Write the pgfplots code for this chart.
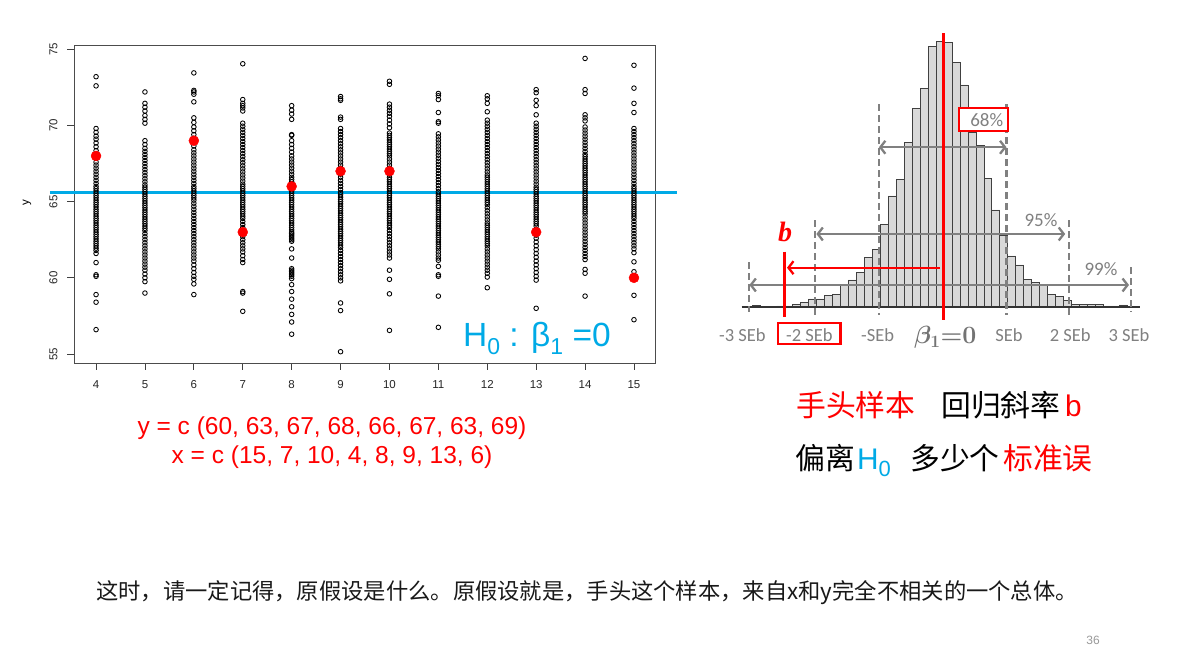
\documentclass[border=0pt]{standalone}
\usepackage{pgfplots}
\pgfplotsset{compat=1.18}
\usepackage{fontspec}
\setmainfont{Liberation Sans}
\newfontfamily\cjk{Noto Sans CJK SC}
\newfontfamily\calib{Carlito}
\newfontfamily\tnr{Liberation Serif}
\usetikzlibrary{arrows.meta}
\definecolor{hblue}{RGB}{0,170,230}
\definecolor{tgray}{RGB}{128,128,128}
\definecolor{barfill}{RGB}{217,217,217}
\definecolor{bardraw}{RGB}{64,64,64}
\newcommand{\fs}[1]{\fontsize{#1}{#1}\selectfont}
\tikzset{barb/.style={line width=2.3pt, tgray, {Straight Barb[length=5pt,width=13pt]}-{Straight Barb[length=5pt,width=13pt]}}}
\begin{document}
\begin{tikzpicture}[x=1pt,y=1pt]
\path[use as bounding box, fill=white] (0pt,0pt) rectangle (1192pt,671pt);
% ---------------- scatter plot ----------------
\begin{axis}[at={(74pt,308pt)}, anchor=south west, scale only axis, width=581pt, height=317.3pt,
 xmin=3.549, xmax=15.43, ymin=54.41, ymax=75.236, clip=false,
 axis line style={black!70, line width=0.9pt},
 xtick={4,5,6,7,8,9,10,11,12,13,14,15}, ytick={55,60,65,70,75},
 xtick pos=left, ytick pos=left,
 tick align=outside, major tick length=7pt, tick style={black!75, line width=0.9pt},
 /pgf/number format/assume math mode=true,
 ticklabel style={font=\fs{11.5}, text=black!85},
 xticklabel shift=7pt, yticklabel shift=6pt,
 yticklabel style={rotate=90, anchor=south},
 ylabel={y}, ylabel style={font=\fs{11.5}, at={(axis description cs:-0.081,0.504)}, anchor=center},
 scat/.style={only marks, mark=o, mark size=2.3pt, black, mark options={line width=0.85pt}}]
\addplot[scat] coordinates {(4,73.2)(4,72.6)(4,69.8)(4,69.55)(4,69.3)(4,69.1)(4,68.85)(4,68.6)(4,68.35)(4,68.1)(4,67.85)(4,67.6)(4,67.4)(4,67.2)(4,67.0)(4,66.8)(4,66.6)(4,66.4)(4,66.2)(4,66.0)(4,65.85)(4,65.7)(4,65.55)(4,65.4)(4,65.25)(4,65.1)(4,64.95)(4,64.8)(4,64.65)(4,64.5)(4,64.35)(4,64.2)(4,64.05)(4,63.9)(4,63.75)(4,63.6)(4,63.45)(4,63.3)(4,63.15)(4,63.0)(4,62.85)(4,62.7)(4,62.55)(4,62.4)(4,62.25)(4,62.1)(4,61.95)(4,61.8)(4,61.6)(4,61.0)(4,60.2)(4,60.1)(4,58.9)(4,58.4)(4,56.6)};
\addplot[scat] coordinates {(5,72.2)(5,71.45)(5,71.2)(5,70.95)(5,70.65)(5,70.4)(5,70.15)(5,69.0)(5,68.75)(5,68.5)(5,68.3)(5,68.1)(5,67.9)(5,67.7)(5,67.5)(5,67.3)(5,67.1)(5,66.9)(5,66.7)(5,66.5)(5,66.3)(5,66.1)(5,65.95)(5,65.8)(5,65.65)(5,65.5)(5,65.35)(5,65.2)(5,65.05)(5,64.9)(5,64.75)(5,64.6)(5,64.45)(5,64.3)(5,64.15)(5,64.0)(5,63.85)(5,63.7)(5,63.55)(5,63.4)(5,63.25)(5,63.1)(5,62.9)(5,62.7)(5,62.5)(5,62.3)(5,62.1)(5,61.9)(5,61.7)(5,61.5)(5,61.3)(5,61.1)(5,60.9)(5,60.7)(5,60.5)(5,60.25)(5,60.0)(5,59.75)(5,59.0)};
\addplot[scat] coordinates {(6,73.45)(6,72.3)(6,72.2)(6,72.05)(6,71.55)(6,70.5)(6,70.2)(6,69.9)(6,69.65)(6,69.4)(6,69.15)(6,68.9)(6,68.65)(6,68.4)(6,68.2)(6,68.0)(6,67.8)(6,67.6)(6,67.4)(6,67.2)(6,67.0)(6,66.8)(6,66.6)(6,66.4)(6,66.2)(6,66.0)(6,65.85)(6,65.7)(6,65.55)(6,65.4)(6,65.25)(6,65.1)(6,64.9)(6,64.7)(6,64.5)(6,64.3)(6,64.1)(6,63.9)(6,63.7)(6,63.5)(6,63.3)(6,63.1)(6,62.9)(6,62.7)(6,62.5)(6,62.3)(6,62.1)(6,61.9)(6,61.7)(6,61.5)(6,61.3)(6,61.1)(6,60.85)(6,60.6)(6,60.35)(6,60.1)(6,59.9)(6,59.6)(6,58.9)};
\addplot[scat] coordinates {(7,74.05)(7,71.7)(7,71.45)(7,71.3)(7,71.15)(7,70.95)(7,70.15)(7,69.95)(7,69.75)(7,69.55)(7,69.35)(7,69.15)(7,68.95)(7,68.75)(7,68.55)(7,68.35)(7,68.15)(7,67.95)(7,67.75)(7,67.55)(7,67.35)(7,67.15)(7,66.95)(7,66.75)(7,66.55)(7,66.35)(7,66.15)(7,66.0)(7,65.85)(7,65.7)(7,65.55)(7,65.4)(7,65.25)(7,65.1)(7,64.95)(7,64.8)(7,64.65)(7,64.5)(7,64.35)(7,64.2)(7,64.05)(7,63.9)(7,63.7)(7,63.5)(7,63.3)(7,63.1)(7,62.9)(7,62.7)(7,62.5)(7,62.3)(7,62.1)(7,61.9)(7,61.7)(7,61.45)(7,61.2)(7,61.0)(7,59.1)(7,59.0)(7,57.8)};
\addplot[scat] coordinates {(8,71.3)(8,71.0)(8,70.75)(8,70.4)(8,69.4)(8,69.35)(8,69.0)(8,68.75)(8,68.5)(8,68.25)(8,68.0)(8,67.8)(8,67.6)(8,67.4)(8,67.2)(8,67.0)(8,66.8)(8,66.6)(8,66.45)(8,66.3)(8,66.15)(8,66.0)(8,65.85)(8,65.7)(8,65.55)(8,65.4)(8,65.25)(8,65.1)(8,64.95)(8,64.8)(8,64.65)(8,64.5)(8,64.35)(8,64.2)(8,64.05)(8,63.9)(8,63.75)(8,63.6)(8,63.45)(8,63.3)(8,63.15)(8,63.0)(8,62.9)(8,62.8)(8,62.7)(8,62.6)(8,62.5)(8,62.4)(8,61.9)(8,61.3)(8,60.6)(8,60.5)(8,60.4)(8,60.3)(8,60.2)(8,60.1)(8,59.95)(8,59.55)(8,59.1)(8,58.6)(8,58.1)(8,57.6)(8,57.1)(8,56.3)};
\addplot[scat] coordinates {(9,71.9)(9,71.75)(9,71.65)(9,70.55)(9,70.4)(9,69.8)(9,69.6)(9,69.4)(9,69.2)(9,69.0)(9,68.8)(9,68.6)(9,68.4)(9,68.2)(9,68.0)(9,67.8)(9,67.6)(9,67.4)(9,67.2)(9,67.0)(9,66.8)(9,66.6)(9,66.4)(9,66.2)(9,66.0)(9,65.8)(9,65.6)(9,65.45)(9,65.3)(9,65.15)(9,65.0)(9,64.85)(9,64.7)(9,64.55)(9,64.4)(9,64.25)(9,64.1)(9,63.95)(9,63.8)(9,63.65)(9,63.5)(9,63.35)(9,63.2)(9,63.05)(9,62.9)(9,62.75)(9,62.6)(9,62.45)(9,62.3)(9,62.15)(9,62.0)(9,61.8)(9,61.6)(9,61.4)(9,61.2)(9,61.0)(9,60.8)(9,60.6)(9,60.4)(9,60.2)(9,60.0)(9,59.8)(9,58.35)(9,57.85)(9,55.15)};
\addplot[scat] coordinates {(10,72.9)(10,72.7)(10,71.4)(10,71.2)(10,71.0)(10,70.8)(10,70.6)(10,70.35)(10,70.1)(10,69.85)(10,69.5)(10,69.35)(10,69.2)(10,69.05)(10,68.9)(10,68.75)(10,68.6)(10,68.45)(10,68.3)(10,68.15)(10,68.0)(10,67.8)(10,67.6)(10,67.4)(10,67.2)(10,67.0)(10,66.8)(10,66.6)(10,66.45)(10,66.3)(10,66.15)(10,66.0)(10,65.85)(10,65.7)(10,65.55)(10,65.4)(10,65.25)(10,65.1)(10,64.95)(10,64.8)(10,64.65)(10,64.5)(10,64.35)(10,64.2)(10,64.05)(10,63.9)(10,63.75)(10,63.6)(10,63.45)(10,63.3)(10,63.1)(10,62.9)(10,62.7)(10,62.5)(10,62.3)(10,62.1)(10,61.9)(10,61.7)(10,61.5)(10,61.3)(10,60.5)(10,59.9)(10,58.95)(10,56.55)};
\addplot[scat] coordinates {(11,72.1)(11,71.95)(11,71.7)(11,70.85)(11,70.25)(11,70.15)(11,69.45)(11,69.25)(11,69.05)(11,68.85)(11,68.65)(11,68.45)(11,68.25)(11,68.05)(11,67.85)(11,67.65)(11,67.45)(11,67.25)(11,67.05)(11,66.85)(11,66.65)(11,66.45)(11,66.25)(11,66.05)(11,65.85)(11,65.65)(11,65.5)(11,65.35)(11,65.2)(11,65.05)(11,64.9)(11,64.75)(11,64.6)(11,64.45)(11,64.3)(11,64.15)(11,64.0)(11,63.85)(11,63.7)(11,63.55)(11,63.4)(11,63.25)(11,63.1)(11,62.95)(11,62.8)(11,62.65)(11,62.5)(11,62.35)(11,62.2)(11,62.05)(11,61.9)(11,61.7)(11,61.5)(11,61.3)(11,61.15)(11,60.75)(11,60.2)(11,60.1)(11,58.8)(11,56.75)};
\addplot[scat] coordinates {(12,71.95)(12,71.75)(12,71.45)(12,70.9)(12,70.35)(12,70.15)(12,69.95)(12,69.75)(12,69.55)(12,69.35)(12,69.15)(12,68.95)(12,68.75)(12,68.55)(12,68.35)(12,68.15)(12,67.95)(12,67.75)(12,67.55)(12,67.35)(12,67.15)(12,66.95)(12,66.75)(12,66.6)(12,66.45)(12,66.3)(12,66.15)(12,66.0)(12,65.85)(12,65.7)(12,65.55)(12,65.4)(12,65.25)(12,65.1)(12,64.95)(12,64.8)(12,64.6)(12,64.4)(12,64.2)(12,64.0)(12,63.8)(12,63.6)(12,63.45)(12,63.3)(12,63.15)(12,63.0)(12,62.85)(12,62.7)(12,62.55)(12,62.4)(12,62.25)(12,62.1)(12,61.9)(12,61.7)(12,61.5)(12,61.3)(12,61.1)(12,60.9)(12,60.7)(12,60.5)(12,60.3)(12,60.05)(12,59.35)};
\addplot[scat] coordinates {(13,72.35)(13,72.15)(13,71.65)(13,71.3)(13,70.7)(13,70.15)(13,69.95)(13,69.75)(13,69.55)(13,69.35)(13,69.15)(13,68.95)(13,68.75)(13,68.55)(13,68.35)(13,68.15)(13,67.95)(13,67.75)(13,67.55)(13,67.35)(13,67.15)(13,66.95)(13,66.75)(13,66.55)(13,66.35)(13,66.15)(13,65.95)(13,65.8)(13,65.65)(13,65.5)(13,65.35)(13,65.2)(13,65.05)(13,64.9)(13,64.75)(13,64.6)(13,64.45)(13,64.3)(13,64.15)(13,64.0)(13,63.85)(13,63.7)(13,63.55)(13,63.4)(13,63.2)(13,63.0)(13,62.8)(13,62.6)(13,62.35)(13,62.1)(13,61.85)(13,61.6)(13,61.35)(13,61.1)(13,60.85)(13,60.6)(13,60.35)(13,60.1)(13,59.85)(13,58.0)};
\addplot[scat] coordinates {(14,74.4)(14,72.35)(14,72.1)(14,70.7)(14,70.5)(14,70.3)(14,69.9)(14,69.7)(14,69.5)(14,69.3)(14,69.1)(14,68.9)(14,68.7)(14,68.5)(14,68.3)(14,68.1)(14,67.95)(14,67.8)(14,67.65)(14,67.5)(14,67.35)(14,67.2)(14,67.05)(14,66.9)(14,66.75)(14,66.6)(14,66.45)(14,66.3)(14,66.15)(14,66.0)(14,65.85)(14,65.7)(14,65.55)(14,65.4)(14,65.25)(14,65.1)(14,64.95)(14,64.8)(14,64.65)(14,64.5)(14,64.35)(14,64.2)(14,64.0)(14,63.8)(14,63.6)(14,63.4)(14,63.2)(14,63.0)(14,62.8)(14,62.6)(14,62.4)(14,62.2)(14,62.0)(14,61.8)(14,61.6)(14,61.4)(14,61.2)(14,60.55)(14,60.3)(14,58.8)};
\addplot[scat] coordinates {(15,73.95)(15,72.45)(15,71.45)(15,70.85)(15,69.8)(15,69.6)(15,69.4)(15,69.2)(15,69.0)(15,68.8)(15,68.6)(15,68.4)(15,68.2)(15,68.0)(15,67.8)(15,67.6)(15,67.4)(15,67.2)(15,67.0)(15,66.8)(15,66.6)(15,66.4)(15,66.2)(15,66.0)(15,65.85)(15,65.7)(15,65.55)(15,65.4)(15,65.25)(15,65.1)(15,64.95)(15,64.8)(15,64.65)(15,64.5)(15,64.35)(15,64.2)(15,64.05)(15,63.9)(15,63.7)(15,63.5)(15,63.3)(15,63.1)(15,62.9)(15,62.7)(15,62.5)(15,62.3)(15,62.1)(15,61.9)(15,61.65)(15,61.05)(15,60.4)(15,60.0)(15,58.85)(15,57.25)};
\addplot[hblue, line width=3pt] coordinates {(3.057,65.57)(15.88,65.57)};
\addplot[only marks, mark=*, mark size=5pt, red] coordinates {(15,60)(7,63)(10,67)(4,68)(8,66)(9,67)(13,63)(6,69)};
\end{axis}
\node[anchor=base west, text=hblue, inner sep=0, font=\fs{33.5}] at (463pt,324.3pt) {H\raisebox{-0.22em}{\fs{23}0} : β\raisebox{-0.22em}{\fs{23}1} =0};
% ---------------- histogram ----------------
\begin{axis}[at={(735.35pt,363.7pt)}, anchor=south west, scale only axis, width=414.7pt, height=300pt,
 xmin=-3.25, xmax=3.25, ymin=0, ymax=300, hide axis, clip=false]
\addplot[ybar interval, fill=barfill, draw=bardraw, line width=0.8pt] coordinates {(-2.979,2)(-2.854,1)(-2.729,0.3)(-2.604,1.3)(-2.479,1.3)(-2.354,3)(-2.229,5)(-2.104,8.3)(-1.979,8.3)(-1.854,11.7)(-1.729,13)(-1.604,21.7)(-1.479,27.3)(-1.354,35)(-1.229,50)(-1.104,57.7)(-0.979,83)(-0.854,111.3)(-0.729,127.7)(-0.604,165)(-0.479,199)(-0.354,219)(-0.229,260.7)(-0.104,265.7)(0.021,264.7)(0.146,245)(0.271,222.3)(0.396,174.7)(0.521,162)(0.646,129)(0.771,97.3)(0.896,71.7)(1.021,51.3)(1.146,42.3)(1.271,28)(1.396,24.7)(1.521,22.3)(1.646,13)(1.771,10.7)(1.896,6.7)(2.021,2.7)(2.146,2.7)(2.271,2.7)(2.396,2.7)(2.521,1.3)(2.646,1.3)(2.771,2.3)(2.896,0)};
\draw[line width=1.8pt, black!80] (axis cs:-3.15,0) -- (axis cs:3.09,0);
\draw[tgray, line width=2.2pt, dash pattern=on 7pt off 4pt] (axis cs:-1,203) -- (axis cs:-1,-8);
\draw[tgray, line width=2.2pt, dash pattern=on 7pt off 4pt] (axis cs:1,203) -- (axis cs:1,-8);
\draw[tgray, line width=2.2pt, dash pattern=on 7pt off 4pt] (axis cs:-2,87) -- (axis cs:-2,-8);
\draw[tgray, line width=2.2pt, dash pattern=on 7pt off 4pt] (axis cs:1.98,87) -- (axis cs:1.98,-8);
\draw[tgray, line width=2.2pt, dash pattern=on 7pt off 4pt] (axis cs:-3.03,45) -- (axis cs:-3.03,-5);
\draw[tgray, line width=2.2pt, dash pattern=on 7pt off 4pt] (axis cs:2.95,40) -- (axis cs:2.95,-5);
\draw[barb] (axis cs:-1,160) -- (axis cs:1,160);
\draw[barb] (axis cs:-1.98,73.3) -- (axis cs:1.92,73.3);
\draw[barb] (axis cs:-3.03,22.3) -- (axis cs:2.92,22.3);
\draw[red, line width=3pt] (axis cs:0.01,274) -- (axis cs:0.01,-13);
\draw[red, line width=3pt] (axis cs:-2.48,55.6) -- (axis cs:-2.48,-9.4);
\draw[red, line width=2.3pt, -{Straight Barb[length=5pt,width=13pt]}] (axis cs:-0.04,39.6) -- (axis cs:-2.44,39.6);
\node[draw=red, line width=2.5pt, fill=white, minimum width=49pt, minimum height=23pt, inner sep=0] at (axis cs:0.642,188) {};
\node[text=tgray, font=\calib\fs{19}, inner sep=0] at (axis cs:0.69,187.3) {68\%};
\node[text=tgray, font=\calib\fs{19}, inner sep=0] at (axis cs:1.54,87) {95\%};
\node[text=tgray, font=\calib\fs{19}, inner sep=0] at (axis cs:2.48,38) {99\%};
\node[draw=red, line width=2.5pt, minimum width=62.7pt, minimum height=21pt, inner sep=0] at (axis cs:-2.09,-26.2) {};
\node[text=tgray, font=\calib\fs{18.5}, inner sep=0] at (axis cs:-3.14,-27.7) {-3 SEb};
\node[text=tgray, font=\calib\fs{18.5}, inner sep=0] at (axis cs:-2.09,-27.7) {-2 SEb};
\node[text=tgray, font=\calib\fs{18.5}, inner sep=0] at (axis cs:-1.02,-27.7) {-SEb};
\node[text=black!55, font=\fs{27}\boldmath, inner sep=0] at (axis cs:0.04,-30) {$\beta_1{=}0$};
\node[text=tgray, font=\calib\fs{18.5}, inner sep=0] at (axis cs:1.04,-27.7) {SEb};
\node[text=tgray, font=\calib\fs{18.5}, inner sep=0] at (axis cs:2.0,-27.7) {2 SEb};
\node[text=tgray, font=\calib\fs{18.5}, inner sep=0] at (axis cs:2.92,-27.7) {3 SEb};
\node[text=red, font=\tnr\bfseries\itshape\fs{28}, inner sep=0] at (axis cs:-2.47,75.3) {b};
\end{axis}
% ---------------- texts ----------------
\node[text=red, font=\fs{24.5}, inner sep=0] at (332pt,243pt) {y = c (60, 63, 67, 68, 66, 67, 63, 69)};
\node[text=red, font=\fs{24.5}, inner sep=0] at (332pt,214pt) {x = c (15, 7, 10, 4, 8, 9, 13, 6)};
\node[anchor=base west, text=red, font=\cjk\fs{29.8}, inner sep=0] at (796pt,254pt) {手头样本};
\node[anchor=base west, text=black, font=\cjk\fs{29.8}, inner sep=0] at (941pt,254pt) {回归斜率};
\node[anchor=base west, text=red, font=\fs{29.8}, inner sep=0] at (1065pt,254pt) {b};
\node[anchor=base west, text=black, font=\cjk\fs{29.8}, inner sep=0] at (795pt,201pt) {偏离};
\node[anchor=base west, text=hblue, font=\fs{29.8}, inner sep=0] at (857pt,201pt) {H\raisebox{-0.22em}{\fs{22}0}};
\node[anchor=base west, text=black, font=\cjk\fs{29.8}, inner sep=0] at (910pt,201pt) {多少个};
\node[anchor=base west, text=red, font=\cjk\fs{29.8}, inner sep=0] at (1003pt,201pt) {标准误};
\node[anchor=base west, text=black!90, font=\cjk\fs{22.3}, inner sep=0] at (96pt,71pt) {这时，请一定记得，原假设是什么。原假设就是，手头这个样本，来自x和y完全不相关的一个总体。};
\node[text=black!40, font=\fs{12}, inner sep=0] at (1093pt,31pt) {36};
\end{tikzpicture}
\end{document}
